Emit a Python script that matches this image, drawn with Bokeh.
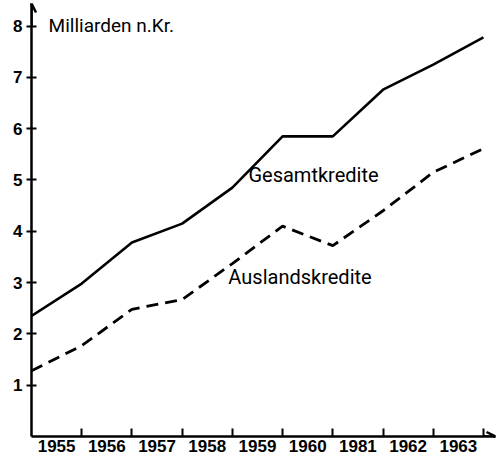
from bokeh.plotting import figure
from bokeh.models import FixedTicker, Arrow, OpenHead, Label, Range1d, ColumnDataSource
from bokeh.embed import file_html
from bokeh.resources import INLINE

# Year labels (printed between the year-boundary ticks)
year_labels = ["1955", "1956", "1957", "1958", "1959", "1960", "1981", "1962", "1963"]
# Year boundaries (end of previous year .. end of 1963)
boundaries = [0, 1, 2, 3, 4, 5, 6, 7, 8, 9]
# Milliarden n.Kr.
gesamt = [2.35, 2.98, 3.78, 4.15, 4.85, 5.85, 5.85, 6.76, 7.25, 7.78]
ausland = [1.28, 1.77, 2.48, 2.67, 3.37, 4.10, 3.72, 4.40, 5.15, 5.61]
y_ticks = [1, 2, 3, 4, 5, 6, 7, 8]

label_pos = [b + 0.5 for b in boundaries[:-1]]

p = figure(width=497, height=457, output_backend="svg", toolbar_location=None,
           x_range=Range1d(0, 9.24), y_range=Range1d(0, 8.44),
           min_border_left=31, min_border_right=2, min_border_top=3, min_border_bottom=21)
p.outline_line_color = None
p.grid.visible = False
p.background_fill_color = "white"
p.border_fill_color = "white"

src = ColumnDataSource(dict(x=boundaries, g=gesamt, a=ausland))
p.line("x", "g", source=src, line_color="black", line_width=2.6)
p.line("x", "a", source=src, line_color="black", line_width=2.8, line_dash="12 7")

# x axis
xa = p.xaxis[0]
xa.ticker = FixedTicker(ticks=label_pos, minor_ticks=boundaries[1:])
xa.major_label_overrides = {lp: yl for lp, yl in zip(label_pos, year_labels)}
xa.major_tick_in = 0
xa.major_tick_out = 0
xa.minor_tick_in = 8
xa.minor_tick_out = 0
xa.minor_tick_line_width = 2
xa.minor_tick_line_color = "black"
xa.axis_line_width = 2.5
xa.axis_line_color = "black"
xa.major_label_text_font = "Liberation Sans"
xa.major_label_text_font_style = "bold"
xa.major_label_text_font_size = "17px"
xa.major_label_text_color = "black"
xa.major_label_standoff = 3

# y axis
ya = p.yaxis[0]
ya.ticker = FixedTicker(ticks=y_ticks, minor_ticks=[])
ya.major_tick_in = 5
ya.major_tick_out = 5
ya.major_tick_line_width = 2
ya.major_tick_line_color = "black"
ya.axis_line_width = 2.5
ya.axis_line_color = "black"
ya.major_label_text_font = "Liberation Sans"
ya.major_label_text_font_style = "bold"
ya.major_label_text_font_size = "17px"
ya.major_label_text_color = "black"
ya.major_label_standoff = 4

# axis arrows
p.add_layout(Arrow(end=OpenHead(size=9, line_width=2.5, line_color="black"),
                   x_start=0, y_start=8.0, x_end=0, y_end=8.44,
                   line_width=2.5, line_color="black"))
p.add_layout(Arrow(end=OpenHead(size=9, line_width=2.5, line_color="black"),
                   x_start=9.0, y_start=0, x_end=9.24, y_end=0,
                   line_width=2.5, line_color="black"))

font = "Roboto"
p.add_layout(Label(x=0.34, y=8.01, text="Milliarden n.Kr.", text_font=font,
                   text_font_size="19px", text_baseline="middle", text_align="left",
                   text_color="black"))
p.add_layout(Label(x=4.32, y=5.09, text="Gesamtkredite", text_font=font,
                   text_font_size="20px", text_baseline="middle", text_align="left",
                   text_color="black"))
p.add_layout(Label(x=3.92, y=3.10, text="Auslandskredite", text_font=font,
                   text_font_size="20px", text_baseline="middle", text_align="left",
                   text_color="black"))

open("out.html", "w").write(file_html(p, INLINE))
